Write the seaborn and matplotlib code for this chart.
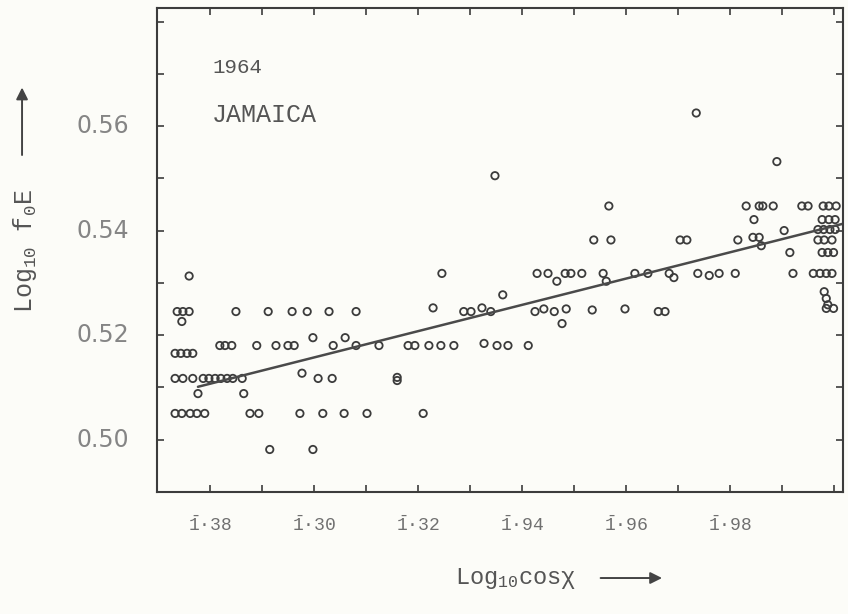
import numpy as np
import pandas as pd
import seaborn as sns
import matplotlib.pyplot as plt
from matplotlib.patches import FancyArrowPatch

# x: mantissa of Log10 cos(chi)  (bar-1 characteristic),  y: Log10 foE
log_cos_chi = [
    0.8915, 0.8998,
    0.8733, 0.8746, 0.8762, 0.8775, 0.8790, 0.8877, 0.8894, 0.8973, 0.9017, 0.9058, 0.9102, 0.9210,
    0.8777, 0.8865,
    0.8733, 0.8748, 0.8767, 0.8787, 0.8798, 0.8810, 0.8821, 0.8833, 0.8844, 0.8862, 0.9008, 0.9035, 0.9160, 0.9160,
    0.8977,
    0.8733, 0.8744, 0.8756, 0.8767,
    0.8819, 0.8829, 0.8842, 0.8890, 0.8927, 0.8950, 0.8962, 0.9037, 0.9081, 0.9125, 0.9181, 0.9194, 0.9221,
    0.9244, 0.9269, 0.9327, 0.9352, 0.9373, 0.9412,
    0.8998, 0.9060,
    0.8746, 0.9477,
    0.8737, 0.8748, 0.8760, 0.8850, 0.8912, 0.8958, 0.8987, 0.9029, 0.9081, 0.9229, 0.9288, 0.9302, 0.9323,
    0.9340, 0.9425, 0.9442, 0.9462, 0.9485, 0.9535, 0.9598, 0.9662, 0.9675,
    0.9363,
    0.9467, 0.9562, 0.9692,
    0.8760, 0.9760,
    0.9246, 0.9429, 0.9450, 0.9483, 0.9494, 0.9515, 0.9556, 0.9617, 0.9642, 0.9683, 0.9738, 0.9779, 0.9810,
    0.9921, 0.9960, 0.9973, 0.9985, 0.9996,
    0.9915, 0.9977, 0.9988, 0.9999,
    0.9860,
    0.9538, 0.9571, 0.9704, 0.9717, 0.9815, 0.9844, 0.9856, 0.9969, 0.9981, 0.9996,
    0.9904, 0.9969, 0.9980, 0.9992, 1.0002,
    0.9846, 0.9977, 0.9990, 1.0002,
    0.9567, 0.9831, 0.9856, 0.9863, 0.9883, 0.9938, 0.9950, 0.9979, 0.9990, 1.0004,
    0.9348, 0.9890, 0.9735,
    0.9981, 0.9985, 0.9988, 0.9985, 0.9999,
]
log_foE = [
    0.4981, 0.4981,
    0.5050, 0.5050, 0.5050, 0.5050, 0.5050, 0.5050, 0.5050, 0.5050, 0.5050, 0.5050, 0.5050, 0.5050,
    0.5088, 0.5088,
    0.5117, 0.5117, 0.5117, 0.5117, 0.5117, 0.5117, 0.5117, 0.5117, 0.5117, 0.5117, 0.5117, 0.5117, 0.5119, 0.5113,
    0.5127,
    0.5165, 0.5165, 0.5165, 0.5165,
    0.5180, 0.5180, 0.5180, 0.5180, 0.5180, 0.5180, 0.5180, 0.5180, 0.5180, 0.5180, 0.5180, 0.5180, 0.5180,
    0.5180, 0.5180, 0.5184, 0.5180, 0.5180, 0.5180,
    0.5195, 0.5195,
    0.5226, 0.5222,
    0.5245, 0.5245, 0.5245, 0.5245, 0.5245, 0.5245, 0.5245, 0.5245, 0.5245, 0.5252, 0.5245, 0.5245, 0.5252,
    0.5245, 0.5245, 0.5250, 0.5245, 0.5250, 0.5248, 0.5250, 0.5245, 0.5245,
    0.5277,
    0.5303, 0.5303, 0.5310,
    0.5313, 0.5314,
    0.5318, 0.5318, 0.5318, 0.5318, 0.5318, 0.5318, 0.5318, 0.5318, 0.5318, 0.5318, 0.5318, 0.5318, 0.5318,
    0.5318, 0.5318, 0.5318, 0.5318, 0.5318,
    0.5358, 0.5358, 0.5358, 0.5358,
    0.5371,
    0.5382, 0.5382, 0.5382, 0.5382, 0.5382, 0.5387, 0.5387, 0.5382, 0.5382, 0.5382,
    0.5400, 0.5402, 0.5402, 0.5402, 0.5402,
    0.5421, 0.5421, 0.5421, 0.5421,
    0.5447, 0.5447, 0.5447, 0.5447, 0.5447, 0.5447, 0.5447, 0.5447, 0.5447, 0.5447,
    0.5505, 0.5532, 0.5625,
    0.5283, 0.5270, 0.5258, 0.5251, 0.5251,
]

# regression line end points
fit_x = [0.8777, 1.0017]
fit_y = [0.5101, 0.5413]

xtick_pos = [0.88, 0.90, 0.92, 0.94, 0.96, 0.98]
xtick_txt = ["38", "30", "32", "94", "96", "98"]
ytick_pos = [0.50, 0.52, 0.54, 0.56]
ytick_txt = ["0.50", "0.52", "0.54", "0.56"]

df = pd.DataFrame({"x": log_cos_chi, "y": log_foE})
line_df = pd.DataFrame({"x": fit_x, "y": fit_y})

sns.set_style("ticks")
plt.rcParams["mathtext.fontset"] = "custom"
plt.rcParams["mathtext.rm"] = "Liberation Mono"
plt.rcParams["mathtext.it"] = "Liberation Mono"
plt.rcParams["mathtext.tt"] = "Liberation Mono"

ink = "#3c3c3c"
paper = "#fcfcf8"

fig = plt.figure(figsize=(8.48, 6.14), dpi=100, facecolor=paper)
ax = fig.add_axes([0.185, 0.199, 0.809, 0.788])
ax.set_facecolor(paper)

sns.scatterplot(data=df, x="x", y="y", marker="o", s=28, facecolor="none",
                edgecolor=ink, linewidth=1.3, ax=ax)
sns.lineplot(data=line_df, x="x", y="y", color="#4a4a4a", linewidth=1.8, ax=ax)

ax.set_xlim(0.8698, 1.0017)
ax.set_ylim(0.4901, 0.5826)

ax.set_xticks(np.arange(0.88, 1.0001, 0.01))
ax.set_xticklabels([""] * 13)
ax.set_yticks(np.arange(0.49, 0.5801, 0.01))
ax.set_yticklabels([""] * 10)
ax.tick_params(direction="in", length=5, width=1.2, color=ink,
               top=True, right=True)

for p, t in zip(xtick_pos, xtick_txt):
    ax.text(p, -0.07, r"$\bar{1}$" + "\u00b7" + t, transform=ax.get_xaxis_transform(),
            ha="center", va="center", fontsize=13, color="#707070",
            family="Liberation Mono")
for p, t in zip(ytick_pos, ytick_txt):
    ax.text(-0.04, p, t, transform=ax.get_yaxis_transform(),
            ha="right", va="center", fontsize=17, color="#858585",
            family="DejaVu Sans")

for s in ax.spines.values():
    s.set_color(ink)
    s.set_linewidth(1.5)

ax.set_xlabel("")
ax.set_ylabel("")

ax.text(0.0816, 0.878, "1964", transform=ax.transAxes, fontsize=15,
        color="#555555", family="Liberation Mono", va="center")
ax.text(0.0800, 0.779, "JAMAICA", transform=ax.transAxes, fontsize=18,
        color="#555555", family="Liberation Mono", va="center")

# axis titles with arrows
fig.text(0.608, 0.058, r"Log$_{10}$cos$\chi$", fontsize=17, color="#555555",
         family="Liberation Mono", ha="center", va="center")
fig.text(0.030, 0.591, r"Log$_{10}$ f$_0$E", fontsize=18, color="#555555",
         family="Liberation Mono", ha="center", va="center", rotation=90)
fig.patches.append(FancyArrowPatch(
    (0.705, 0.0586), (0.784, 0.0586), transform=fig.transFigure,
    arrowstyle="-|>,head_length=7,head_width=3.5", color="#444444", lw=1.4))
fig.patches.append(FancyArrowPatch(
    (0.026, 0.743), (0.026, 0.862), transform=fig.transFigure,
    arrowstyle="-|>,head_length=7,head_width=3.5", color="#444444", lw=1.4))

plt.savefig("out.png", dpi=100, facecolor=paper)
